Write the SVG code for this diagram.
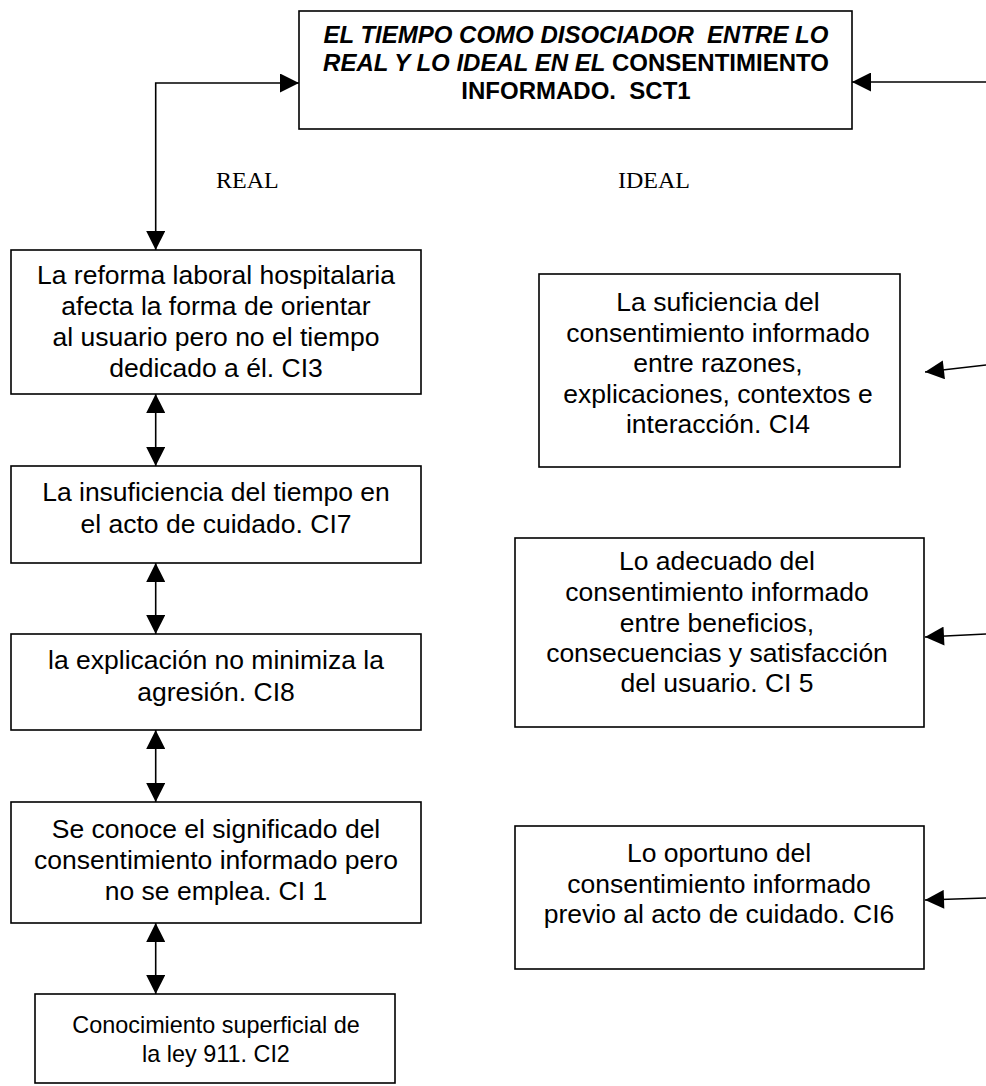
<svg xmlns="http://www.w3.org/2000/svg" width="986" height="1086" viewBox="0 0 986 1086">
<style>
.box{fill:#fff;stroke:#000;stroke-width:1.6}
.t{font-family:"Liberation Sans",Arial,sans-serif;font-size:26.5px;fill:#000;text-anchor:middle}
.s{font-size:23.4px}
.title{font-family:"Liberation Sans",Arial,sans-serif;font-size:24px;font-weight:bold;fill:#000;text-anchor:middle}
.lbl{font-family:"Liberation Serif","Times New Roman",serif;font-size:24px;fill:#000}
.c{fill:none;stroke:#000;stroke-width:1.6}
</style>
<defs>
<marker id="ah" viewBox="0 0 10 10" refX="10" refY="5" markerUnits="userSpaceOnUse" markerWidth="20" markerHeight="19" orient="auto-start-reverse">
<path d="M0,0 L10,5 L0,10 z" fill="#000"/>
</marker>
</defs>
<g id="connectors">
<polyline class="c" points="155.7,250 155.7,83 299,83" marker-start="url(#ah)" marker-end="url(#ah)"/>
<line class="c" x1="986" y1="82" x2="852" y2="82" marker-end="url(#ah)"/>
<line class="c" x1="155.7" y1="394" x2="155.7" y2="466" marker-start="url(#ah)" marker-end="url(#ah)"/>
<line class="c" x1="155.7" y1="563" x2="155.7" y2="634" marker-start="url(#ah)" marker-end="url(#ah)"/>
<line class="c" x1="155.7" y1="730" x2="155.7" y2="802" marker-start="url(#ah)" marker-end="url(#ah)"/>
<line class="c" x1="155.7" y1="923" x2="155.7" y2="994" marker-start="url(#ah)" marker-end="url(#ah)"/>
<line class="c" x1="986" y1="365" x2="925" y2="372" marker-end="url(#ah)"/>
<line class="c" x1="986" y1="634" x2="925" y2="637" marker-end="url(#ah)"/>
<line class="c" x1="986" y1="898" x2="925" y2="900" marker-end="url(#ah)"/>
</g>
<g id="SCT1">
<rect class="box" x="299" y="11" width="553" height="118"/>
<text class="title" x="576" y="43" font-style="italic" xml:space="preserve">EL TIEMPO COMO DISOCIADOR  ENTRE LO</text>
<text class="title" x="576" y="71"><tspan font-style="italic">REAL Y LO IDEAL EN EL</tspan> CONSENTIMIENTO</text>
<text class="title" x="576" y="99" xml:space="preserve">INFORMADO.  SCT1</text>
</g>
<g id="labels">
<text class="lbl" x="216" y="188">REAL</text>
<text class="lbl" x="618" y="188">IDEAL</text>
</g>
<g id="CI3">
<rect class="box" x="11" y="250" width="410" height="144"/>
<text class="t" x="216" y="284">La reforma laboral hospitalaria</text>
<text class="t" x="216" y="315">afecta la forma de orientar</text>
<text class="t" x="216" y="346">al usuario pero no el tiempo</text>
<text class="t" x="216" y="377">dedicado a él. CI3</text>
</g>
<g id="CI7">
<rect class="box" x="11" y="466" width="410" height="97"/>
<text class="t" x="216" y="501">La insuficiencia del tiempo en</text>
<text class="t" x="216" y="533">el acto de cuidado. CI7</text>
</g>
<g id="CI8">
<rect class="box" x="11" y="634" width="410" height="96"/>
<text class="t" x="216" y="669">la explicación no minimiza la</text>
<text class="t" x="216" y="701">agresión. CI8</text>
</g>
<g id="CI1">
<rect class="box" x="11" y="802" width="410" height="121"/>
<text class="t" x="216" y="838">Se conoce el significado del</text>
<text class="t" x="216" y="869">consentimiento informado pero</text>
<text class="t" x="216" y="900">no se emplea. CI 1</text>
</g>
<g id="CI2">
<rect class="box" x="35" y="994" width="360" height="89"/>
<text class="t s" x="216" y="1033">Conocimiento superficial de</text>
<text class="t s" x="216" y="1062">la ley 911. CI2</text>
</g>
<g id="CI4">
<rect class="box" x="539" y="274" width="361" height="193"/>
<text class="t" x="718" y="311">La suficiencia del</text>
<text class="t" x="718" y="342">consentimiento informado</text>
<text class="t" x="718" y="372">entre razones,</text>
<text class="t" x="718" y="403">explicaciones, contextos e</text>
<text class="t" x="718" y="433">interacción. CI4</text>
</g>
<g id="CI5">
<rect class="box" x="515" y="538" width="409" height="189"/>
<text class="t" x="717" y="570">Lo adecuado del</text>
<text class="t" x="717" y="601">consentimiento informado</text>
<text class="t" x="717" y="632">entre beneficios,</text>
<text class="t" x="717" y="662">consecuencias y satisfacción</text>
<text class="t" x="717" y="692">del usuario. CI 5</text>
</g>
<g id="CI6">
<rect class="box" x="515" y="826" width="409" height="143"/>
<text class="t" x="719" y="862">Lo oportuno del</text>
<text class="t" x="719" y="893">consentimiento informado</text>
<text class="t" x="719" y="923">previo al acto de cuidado. CI6</text>
</g>
</svg>
